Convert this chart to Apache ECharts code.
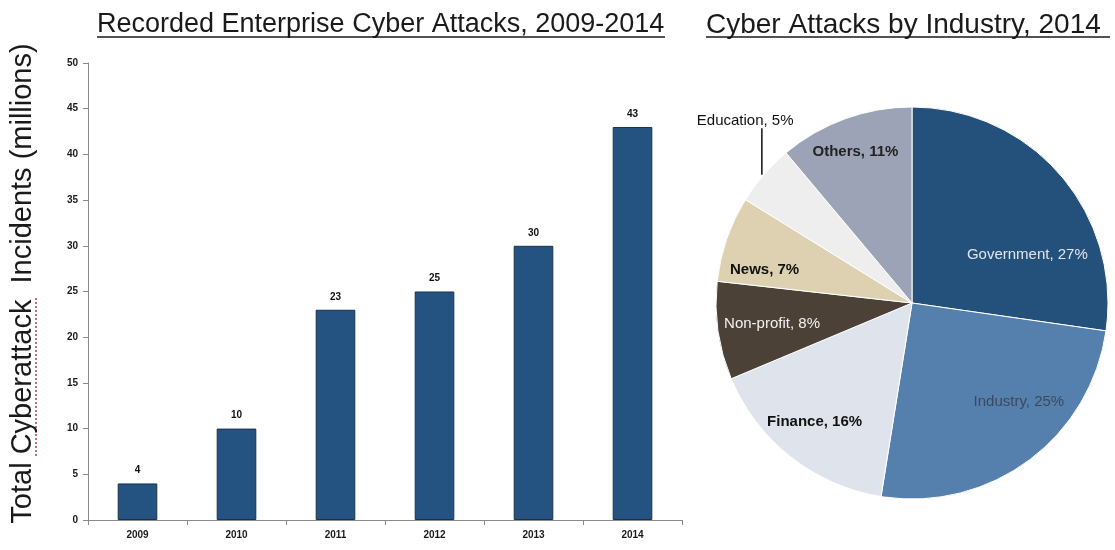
<!DOCTYPE html>
<html>
<head>
<meta charset="utf-8">
<script src="https://cdn.jsdelivr.net/npm/echarts@6/dist/echarts.min.js"></script>
<style>
  html, body { margin: 0; padding: 0; background: #ffffff; }
  #chart { width: 1115px; height: 550px; }
</style>
</head>
<body>
<div id="chart"></div>
<script>
// Yearly recorded enterprise cyber attacks (millions)
const years = ['2009', '2010', '2011', '2012', '2013', '2014'];
const incidents = [4, 10, 23, 25, 30, 43];

// Share of 2014 attacks by industry (%)
const industries = ['Government', 'Industry', 'Finance', 'Non-profit', 'News', 'Education', 'Others'];
const shares = [27, 25, 16, 8, 7, 5, 11];

// Value axis ticks
const yMin = 0, yMax = 50, yStep = 5;

const sliceColors = ['#24507c', '#5580ae', '#dfe4ec', '#4b4136', '#ddd1b1', '#eeeeee', '#9ca3b7'];
const sliceLabelStyles = [
  { color: '#dfe6ef', fontWeight: 'normal' },
  { color: '#3a4a5e', fontWeight: 'normal' },
  { color: '#111111', fontWeight: 'bold' },
  { color: '#f2f2f2', fontWeight: 'normal' },
  { color: '#111111', fontWeight: 'bold' },
  { color: '#111111', fontWeight: 'normal' },
  { color: '#222222', fontWeight: 'bold' }
];
// Nudges that move each slice label from its default spot
const labelNudge = [[39, 18], [47, 18], [-35, 39], [-40, 6], [-52, 0], [61, -44], [-22, -56]];

const chart = echarts.init(document.getElementById('chart'), null, { renderer: 'canvas' });

const titleFont = { fontFamily: 'Liberation Sans, Arial, sans-serif', fontSize: 27, color: '#1a1a1a', fontWeight: 'normal' };

chart.setOption({
  backgroundColor: '#ffffff',
  animation: false,
  title: [
    { text: 'Recorded Enterprise Cyber Attacks, 2009-2014', left: 92, top: 6, textStyle: titleFont },
    { text: 'Cyber Attacks by Industry, 2014', left: 701, top: 6, textStyle: Object.assign({}, titleFont, { fontSize: 28 }) }
  ],
  graphic: [
    // title underlines
    { type: 'line', shape: { x1: 97, y1: 37, x2: 665, y2: 37 }, style: { stroke: '#1a1a1a', lineWidth: 1.5 } },
    { type: 'line', shape: { x1: 706, y1: 37, x2: 1110, y2: 37 }, style: { stroke: '#1a1a1a', lineWidth: 1.5 } },
    // spell-check squiggle under the word "Cyberattack"
    { type: 'line', shape: { x1: 36, y1: 298, x2: 36, y2: 456 }, style: { stroke: '#b0404e', lineWidth: 1.5, lineDash: [2, 2] } }
  ],
  grid: { left: 83, right: 433, top: 63, bottom: 30, containLabel: false },
  xAxis: {
    type: 'category',
    data: years,
    axisLine: { lineStyle: { color: '#8a8a8a', width: 1 } },
    axisTick: { show: true, length: 5, lineStyle: { color: '#8a8a8a' } },
    axisLabel: { color: '#1a1a1a', fontSize: 10, fontWeight: 'bold', margin: 10, fontFamily: 'Liberation Sans, Arial, sans-serif' }
  },
  yAxis: {
    type: 'value',
    min: yMin, max: yMax, interval: yStep,
    name: 'Total Cyberattack  Incidents (millions)',
    nameLocation: 'middle',
    nameRotate: 90,
    nameGap: 51,
    nameTextStyle: { fontFamily: 'Liberation Sans, Arial, sans-serif', fontSize: 29, color: '#1a1a1a', padding: [0, 0, 0, 16] },
    axisLine: { show: true, lineStyle: { color: '#8a8a8a', width: 1 } },
    axisTick: { show: true, length: 5, lineStyle: { color: '#8a8a8a' } },
    splitLine: { show: false },
    axisLabel: { color: '#1a1a1a', fontSize: 10, fontWeight: 'bold', margin: 10, fontFamily: 'Liberation Sans, Arial, sans-serif' }
  },
  series: [
    {
      type: 'bar',
      data: incidents,
      barWidth: '40%',
      itemStyle: { color: '#245381', borderColor: '#17324f', borderWidth: 1 },
      label: { show: true, position: 'top', distance: 8, color: '#111111', fontSize: 10, fontWeight: 'bold', fontFamily: 'Liberation Sans, Arial, sans-serif' }
    },
    {
      type: 'pie',
      center: [912, 303],
      radius: 196,
      startAngle: 90,
      clockwise: true,
      avoidLabelOverlap: false,
      itemStyle: { borderColor: '#ffffff', borderWidth: 1 },
      label: { show: true, position: 'inside', formatter: '{b}, {c}%', fontSize: 15, fontFamily: 'Liberation Sans, Arial, sans-serif' },
      labelLine: { show: false },
      labelLayout: function (p) {
        const n = labelNudge[p.dataIndex];
        const out = { dx: n[0], dy: n[1] };
        // outside label: run its leader straight up from the slice edge to the text
        if (p.labelLinePoints) {
          const start = p.labelLinePoints[0];
          const textBottom = p.labelRect.y + n[1] + p.labelRect.height;
          out.labelLinePoints = [
            [start[0] - 2, start[1]],
            [start[0] - 2, (start[1] + textBottom) / 2],
            [start[0] - 2, textBottom]
          ];
        }
        return out;
      },
      data: industries.map(function (name, i) {
        const item = {
          name: name,
          value: shares[i],
          itemStyle: { color: sliceColors[i] },
          label: Object.assign({}, sliceLabelStyles[i])
        };
        if (name === 'Education') {
          item.label.position = 'outside';
          item.labelLine = { show: true, length: 15, length2: 15, lineStyle: { color: '#111111', width: 1.5 } };
        }
        return item;
      })
    }
  ]
});
</script>
</body>
</html>
